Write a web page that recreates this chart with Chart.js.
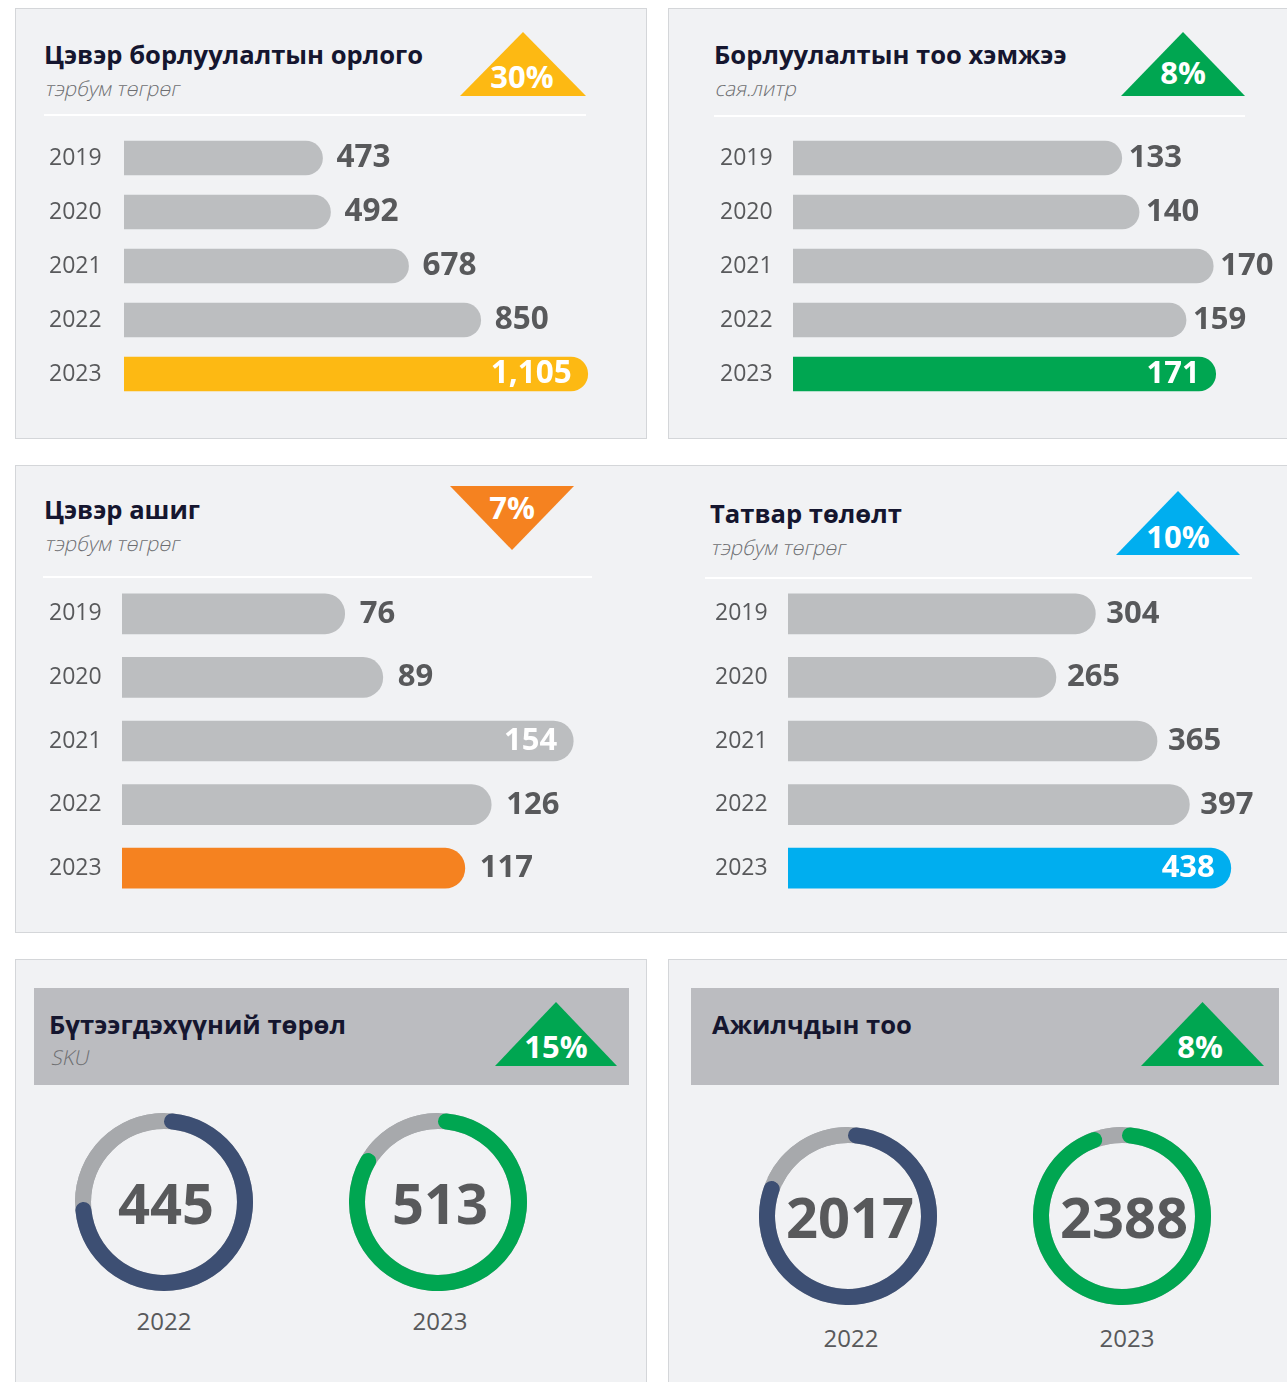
<!DOCTYPE html>
<html>
<head>
<meta charset="utf-8">
<script src="https://cdn.jsdelivr.net/npm/chart.js@4.4.0/dist/chart.umd.min.js"></script>
<style>
  html, body { margin: 0; padding: 0; background: #ffffff; width: 1287px; height: 1382px; overflow: hidden; }
  body { position: relative; font-family: "Open Sans", sans-serif; }
  .panel { position: absolute; background: #f1f2f4; border: 1px solid #d4d6d9; box-sizing: border-box; }
  .hdr { position: absolute; background: #bbbcc0; }
  .sep { position: absolute; height: 2px; background: #ffffff; }
  .title { position: absolute; font-weight: 700; font-size: 25.6px; line-height: 1; color: #15162f; white-space: nowrap; }
  .sub { position: absolute; font-style: normal; font-weight: 300; font-size: 20.5px; line-height: 1; color: #6d6e71; white-space: nowrap; transform: skewX(-12deg); transform-origin: 0 100%; }
  .tri { position: absolute; }
  .tri.up { clip-path: polygon(50% 0, 100% 100%, 0 100%); }
  .tri.down { clip-path: polygon(0 0, 100% 0, 50% 100%); }
  .pct { position: absolute; font-weight: 700; font-size: 31px; line-height: 1; color: #ffffff; text-align: center; white-space: nowrap; }
  .yr { position: absolute; width: 120px; text-align: center; font-size: 24px; line-height: 1; color: #58595b; }
  canvas { position: absolute; }
</style>
</head>
<body>
<div class="panel" style="left:15px;top:8px;width:632px;height:431px"></div>
<div class="panel" style="left:668px;top:8px;width:640px;height:431px"></div>
<div class="panel" style="left:15px;top:465px;width:1295px;height:468px"></div>
<div class="panel" style="left:15px;top:959px;width:632px;height:440px"></div>
<div class="panel" style="left:668px;top:959px;width:640px;height:440px"></div>

<div class="hdr" style="left:34px;top:988px;width:595px;height:97px"></div>
<div class="hdr" style="left:691px;top:988px;width:588px;height:97px"></div>

<div class="sep" style="left:44px;top:114px;width:542px"></div>
<div class="sep" style="left:714px;top:115px;width:531px"></div>
<div class="sep" style="left:43px;top:576px;width:549px"></div>
<div class="sep" style="left:705px;top:577px;width:547px"></div>

<div class="title" style="left:44px;top:42px">Цэвэр борлуулалтын орлого</div>
<div class="sub" style="left:44px;top:78px">тэрбум төгрөг</div>
<div class="title" style="left:714px;top:42px">Борлуулалтын тоо хэмжээ</div>
<div class="sub" style="left:714px;top:78px">сая.литр</div>
<div class="title" style="left:44px;top:497px">Цэвэр ашиг</div>
<div class="sub" style="left:44px;top:533px">тэрбум төгрөг</div>
<div class="title" style="left:710px;top:501px">Татвар төлөлт</div>
<div class="sub" style="left:710px;top:537px">тэрбум төгрөг</div>
<div class="title" style="left:49px;top:1012px">Бүтээгдэхүүний төрөл</div>
<div class="sub" style="left:50px;top:1047px">SKU</div>
<div class="title" style="left:712px;top:1012px">Ажилчдын тоо</div>

<div class="tri up" style="left:460px;top:32px;width:126px;height:64px;background:#fdb913"></div>
<div class="tri up" style="left:1121px;top:32px;width:124px;height:64px;background:#00a651"></div>
<div class="tri down" style="left:450px;top:486px;width:124px;height:64px;background:#f58220"></div>
<div class="tri up" style="left:1116px;top:491px;width:124px;height:64px;background:#00aeef"></div>
<div class="tri up" style="left:495px;top:1002px;width:122px;height:64px;background:#00a651"></div>
<div class="tri up" style="left:1141px;top:1002px;width:123px;height:64px;background:#00a651"></div>

<div id="g0" class="pct" style="left:462px;top:61px;width:120px"></div>
<div id="g1" class="pct" style="left:1123px;top:57px;width:120px"></div>
<div id="g2" class="pct" style="left:452px;top:492px;width:120px"></div>
<div id="g3" class="pct" style="left:1118px;top:521px;width:120px"></div>
<div id="g4" class="pct" style="left:496px;top:1031px;width:120px"></div>
<div id="g5" class="pct" style="left:1140px;top:1031px;width:120px"></div>

<canvas id="c1" width="540" height="270" style="left:49px;top:131px"></canvas>
<canvas id="c2" width="567" height="270" style="left:720px;top:131px"></canvas>
<canvas id="c3" width="543" height="318" style="left:49px;top:582px"></canvas>
<canvas id="c4" width="572" height="318" style="left:715px;top:582px"></canvas>

<canvas id="d1" width="178" height="178" style="left:75px;top:1113px"></canvas>
<canvas id="d2" width="178" height="178" style="left:349px;top:1113px"></canvas>
<canvas id="d3" width="178" height="178" style="left:759px;top:1127px"></canvas>
<canvas id="d4" width="178" height="178" style="left:1033px;top:1127px"></canvas>

<div id="y1" class="yr" style="left:104px;top:1309px"></div>
<div id="y2" class="yr" style="left:380px;top:1309px"></div>
<div id="y3" class="yr" style="left:791px;top:1326px"></div>
<div id="y4" class="yr" style="left:1067px;top:1326px"></div>

<script>
// ---------- DATA ----------
const years = ['2019', '2020', '2021', '2022', '2023'];
const netSales = [473, 492, 678, 850, 1105];     // тэрбум төгрөг
const salesVolume = [133, 140, 170, 159, 171];   // сая.литр
const netProfit = [76, 89, 154, 126, 117];       // тэрбум төгрөг
const taxPaid = [304, 265, 365, 397, 438];       // тэрбум төгрөг
const growthLabels = ['30%', '8%', '7%', '10%', '15%', '8%'];

const donutYears = ['2022', '2023'];
const skuValues = [445, 513];
const skuRingShare = [75, 85];        // % of ring filled
const staffValues = [2017, 2388];
const staffRingShare = [82, 96];      // % of ring filled

// ---------- STYLE ----------
const BAR_GRAY = '#bcbec0';
const RING_GRAY = '#a7a9ac';
const TEXT_GRAY = '#58595b';
const FONT = '"Open Sans", sans-serif';

growthLabels.forEach((g, i) => { document.getElementById('g' + i).textContent = g; });
['y1','y2'].forEach((id, i) => document.getElementById(id).textContent = donutYears[i]);
['y3','y4'].forEach((id, i) => document.getElementById(id).textContent = donutYears[i]);

const fmt = v => v.toLocaleString('en-US');

const valueLabels = {
  id: 'valueLabels',
  afterDatasetsDraw(chart, args, opts) {
    const ctx = chart.ctx;
    const meta = chart.getDatasetMeta(0);
    const vals = chart.data.datasets[0].data;
    const maxV = Math.max(...vals);
    ctx.save();
    ctx.font = `700 ${opts.size}px ${FONT}`;
    ctx.textBaseline = 'alphabetic';
    meta.data.forEach((bar, i) => {
      const v = vals[i];
      const y = bar.y + opts.size * 0.357 - 2;
      if (v === maxV) {
        ctx.fillStyle = '#ffffff';
        ctx.textAlign = 'right';
        ctx.fillText(fmt(v), bar.x - 16, y);
      } else {
        ctx.fillStyle = TEXT_GRAY;
        ctx.textAlign = 'left';
        ctx.fillText(fmt(v), bar.x + opts.gap, y);
      }
    });
    ctx.restore();
  }
};

function barChart(id, values, color, max, axisW, thickness, labelSize, padRight, gap) {
  new Chart(document.getElementById(id), {
    type: 'bar',
    data: {
      labels: years,
      datasets: [{
        data: values,
        backgroundColor: values.map((v, i) => i === values.length - 1 ? color : BAR_GRAY),
        barThickness: thickness,
        borderRadius: { topLeft: 0, bottomLeft: 0, topRight: thickness / 2, bottomRight: thickness / 2 },
        borderSkipped: false
      }]
    },
    options: {
      indexAxis: 'y',
      responsive: false,
      animation: false,
      layout: { padding: { left: 0, top: 0, bottom: 0, right: padRight } },
      plugins: { legend: { display: false }, tooltip: { enabled: false }, valueLabels: { size: labelSize, gap: gap } },
      scales: {
        x: { display: false, min: 0, max: max },
        y: {
          grid: { display: false },
          border: { display: false },
          ticks: { crossAlign: 'far', padding: 0, color: TEXT_GRAY, font: { family: FONT, size: 23 } },
          afterFit(s) { s.width = axisW; s.paddingTop = 0; s.paddingBottom = 0; }
        }
      }
    },
    plugins: [valueLabels]
  });
}

barChart('c1', netSales, '#fdb913', 1108, 75, 34, 31.5, 0, 14);
barChart('c2', salesVolume, '#00a651', 178, 73, 34, 31, 54, 7);
barChart('c3', netProfit, '#f58220', 160.4, 73, 40, 31, 0, 15);
barChart('c4', taxPaid, '#00aeef', 455, 73, 40, 31, 39, 11);

const ringBase = {
  id: 'ringBase',
  beforeDatasetsDraw(chart) {
    const a = chart.getDatasetMeta(0).data[0];
    const ctx = chart.ctx;
    ctx.save();
    ctx.beginPath();
    ctx.arc(a.x, a.y, a.outerRadius, 0, Math.PI * 2);
    ctx.arc(a.x, a.y, a.innerRadius, Math.PI * 2, 0, true);
    ctx.closePath();
    ctx.fillStyle = RING_GRAY;
    ctx.fill();
    ctx.restore();
  },
  afterDatasetsDraw(chart, args, opts) {
    const a = chart.getDatasetMeta(0).data[0];
    const ctx = chart.ctx;
    ctx.save();
    ctx.font = `700 ${opts.size}px ${FONT}`;
    ctx.fillStyle = TEXT_GRAY;
    ctx.textAlign = 'center';
    ctx.textBaseline = 'alphabetic';
    ctx.fillText(String(opts.value), a.x + 2, a.y + opts.size * 0.357 + 2);
    ctx.restore();
  }
};

function donut(id, value, share, color, size) {
  new Chart(document.getElementById(id), {
    type: 'doughnut',
    data: {
      labels: ['filled', 'rest'],
      datasets: [{
        data: [share, 100 - share],
        backgroundColor: [color, RING_GRAY],
        borderWidth: 0,
        borderRadius: (c) => c.dataIndex === 0 ? 8 : 0
      }]
    },
    options: {
      responsive: false,
      animation: false,
      cutout: '82%',
      plugins: { legend: { display: false }, tooltip: { enabled: false }, ringBase: { value: value, size: size } }
    },
    plugins: [ringBase]
  });
}

donut('d1', skuValues[0], skuRingShare[0], '#3d4f73', 56);
donut('d2', skuValues[1], skuRingShare[1], '#00a651', 56);
donut('d3', staffValues[0], staffRingShare[0], '#3d4f73', 56);
donut('d4', staffValues[1], staffRingShare[1], '#00a651', 56);
</script>
</body>
</html>
